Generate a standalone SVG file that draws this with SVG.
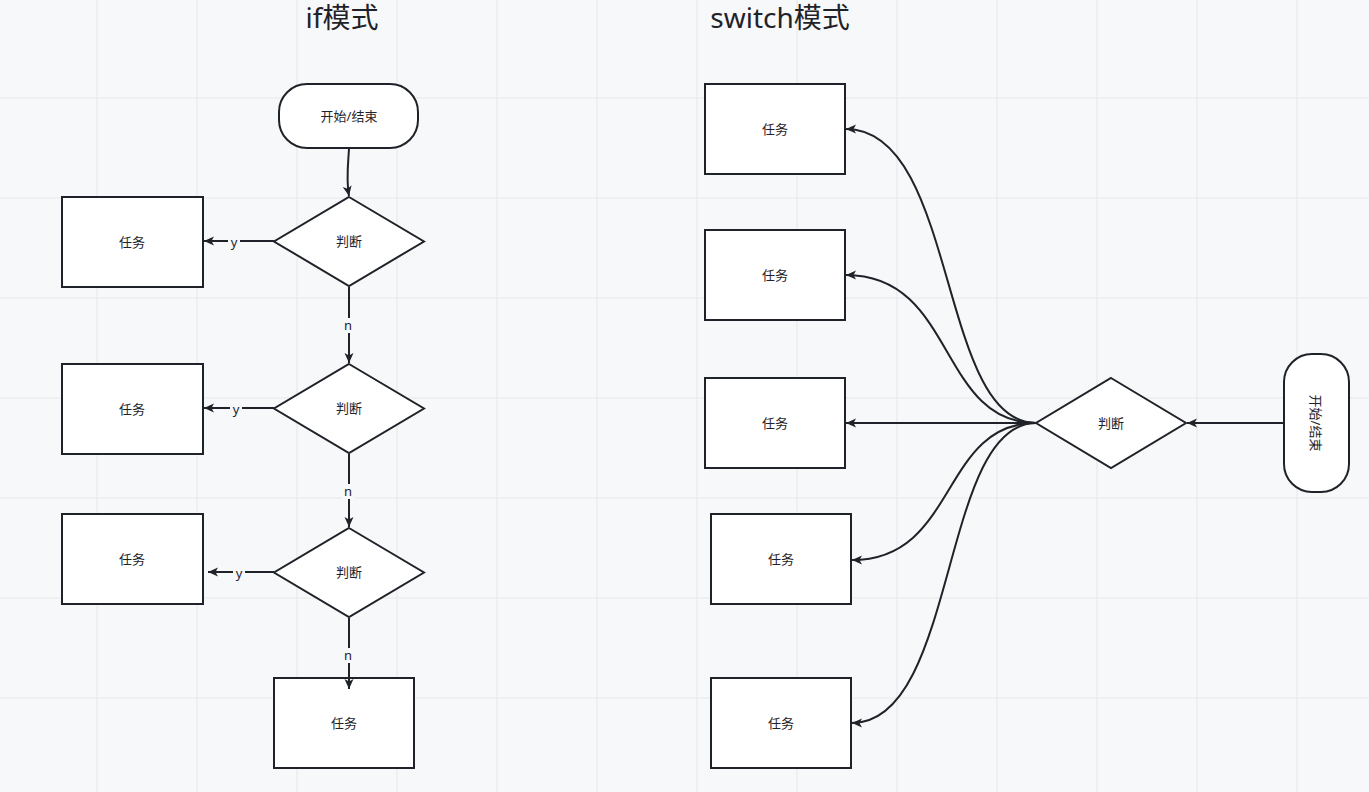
<svg xmlns="http://www.w3.org/2000/svg" width="1369" height="792" viewBox="0 0 1369 792">
<style>
.grid{stroke:#ebedf0;stroke-width:1.6}
.box{fill:#ffffff;stroke:#1f2329;stroke-width:2}
.lbl{font-family:"Noto Sans","Noto Sans CJK SC",sans-serif;font-size:13px;fill:#1f2329;text-anchor:middle;dominant-baseline:central}
.title{font-family:"Noto Sans","Noto Sans CJK SC",sans-serif;font-size:28px;fill:#1f2329;text-anchor:middle}
.edge{fill:none;stroke:#1f2329;stroke-width:2;marker-end:url(#arr)}
.elbl{font-family:"Noto Sans","Noto Sans CJK SC",sans-serif;font-size:13px;fill:#1f2329;text-anchor:middle;dominant-baseline:central}
.ebg{fill:#f7f8fa}
</style>
<defs>
<marker id="arr" markerUnits="userSpaceOnUse" markerWidth="12" markerHeight="10" refX="10" refY="4.5" orient="auto">
<path d="M0,0 L10,4.5 L0,9 L2.5,4.5 z" fill="#1f2329"/>
</marker>
</defs>
<rect width="1369" height="792" fill="#f7f8fa"/>
<g id="grid">
<path class="grid" d="M97,0V792M197,0V792M297,0V792M397,0V792M497,0V792M597,0V792M697,0V792M797,0V792M897,0V792M997,0V792M1097,0V792M1197,0V792M1297,0V792M0,98H1369M0,198H1369M0,298H1369M0,398H1369M0,498H1369M0,598H1369M0,698H1369"/>
</g>
<g id="titles">
<text class="title" x="342" y="28">if模式</text>
<text class="title" x="780" y="28">switch模式</text>
</g>
<g id="start1">
<rect class="box" x="279" y="84" width="139" height="64" rx="28" ry="28"/>
<text class="lbl" x="349" y="116">开始/结束</text>
</g>
<g id="cond1">
<polygon class="box" points="349,197 424,241.5 349,286 274,241.5"/>
<text class="lbl" x="349" y="241">判断</text>
</g>
<g id="task1">
<rect class="box" x="62" y="197" width="141" height="90"/>
<text class="lbl" x="132" y="242">任务</text>
</g>
<g id="cond2">
<polygon class="box" points="349,364 424,408.5 349,453 274,408.5"/>
<text class="lbl" x="349" y="408">判断</text>
</g>
<g id="task2">
<rect class="box" x="62" y="364" width="141" height="90"/>
<text class="lbl" x="132" y="409">任务</text>
</g>
<g id="cond3">
<polygon class="box" points="349,528 424,572.5 349,617 274,572.5"/>
<text class="lbl" x="349" y="572">判断</text>
</g>
<g id="task3">
<rect class="box" x="62" y="514" width="141" height="90"/>
<text class="lbl" x="132" y="559">任务</text>
</g>
<g id="task4">
<rect class="box" x="274" y="678" width="140" height="90"/>
<text class="lbl" x="344" y="723">任务</text>
</g>
<g id="sTaskA">
<rect class="box" x="705" y="84" width="140" height="90"/>
<text class="lbl" x="775" y="129">任务</text>
</g>
<g id="sTaskB">
<rect class="box" x="705" y="230" width="140" height="90"/>
<text class="lbl" x="775" y="275">任务</text>
</g>
<g id="sTaskC">
<rect class="box" x="705" y="378" width="140" height="90"/>
<text class="lbl" x="775" y="423">任务</text>
</g>
<g id="sTaskD">
<rect class="box" x="711" y="514" width="140" height="90"/>
<text class="lbl" x="781" y="559">任务</text>
</g>
<g id="sTaskE">
<rect class="box" x="711" y="678" width="140" height="90"/>
<text class="lbl" x="781" y="723">任务</text>
</g>
<g id="sCond">
<polygon class="box" points="1111,378 1186,423 1111,468 1036,423"/>
<text class="lbl" x="1111" y="423">判断</text>
</g>
<g id="sStart">
<rect class="box" x="1284" y="354" width="65" height="138" rx="28" ry="28"/>
<text class="lbl" x="1316" y="423" transform="rotate(90 1316 423)">开始/结束</text>
</g>
<g id="connectors">
<path class="edge" d="M349,149 C348,165 346,180 349,196"/>
<path class="edge" d="M274,241 L204,241"/>
<path class="edge" d="M349,287 L349,363"/>
<path class="edge" d="M274,408 L204,408"/>
<path class="edge" d="M349,454 L349,527"/>
<path class="edge" d="M274,572 L208,572"/>
<path class="edge" d="M349,618 L349,689"/>
<path class="edge" d="M1284,423 L1187,423"/>
<path class="edge" d="M1036,423 C938,423 958,129 846,129"/>
<path class="edge" d="M1036,423 C938,423 956,275 846,275"/>
<path class="edge" d="M1036,423 L846,423"/>
<path class="edge" d="M1036,423 C940,423 958,560 852,560"/>
<path class="edge" d="M1036,423 C940,423 958,723 852,723"/>
<rect class="ebg" x="228" y="234" width="12" height="15"/>
<text class="elbl" x="234" y="242">y</text>
<rect class="ebg" x="230" y="401" width="12" height="15"/>
<text class="elbl" x="236" y="409">y</text>
<rect class="ebg" x="233" y="565" width="12" height="15"/>
<text class="elbl" x="239" y="573">y</text>
<rect class="ebg" x="342" y="318" width="13" height="15"/>
<text class="elbl" x="348" y="325">n</text>
<rect class="ebg" x="342" y="484" width="13" height="15"/>
<text class="elbl" x="348" y="491">n</text>
<rect class="ebg" x="342" y="648" width="13" height="15"/>
<text class="elbl" x="348" y="655">n</text>
</g>
</svg>
